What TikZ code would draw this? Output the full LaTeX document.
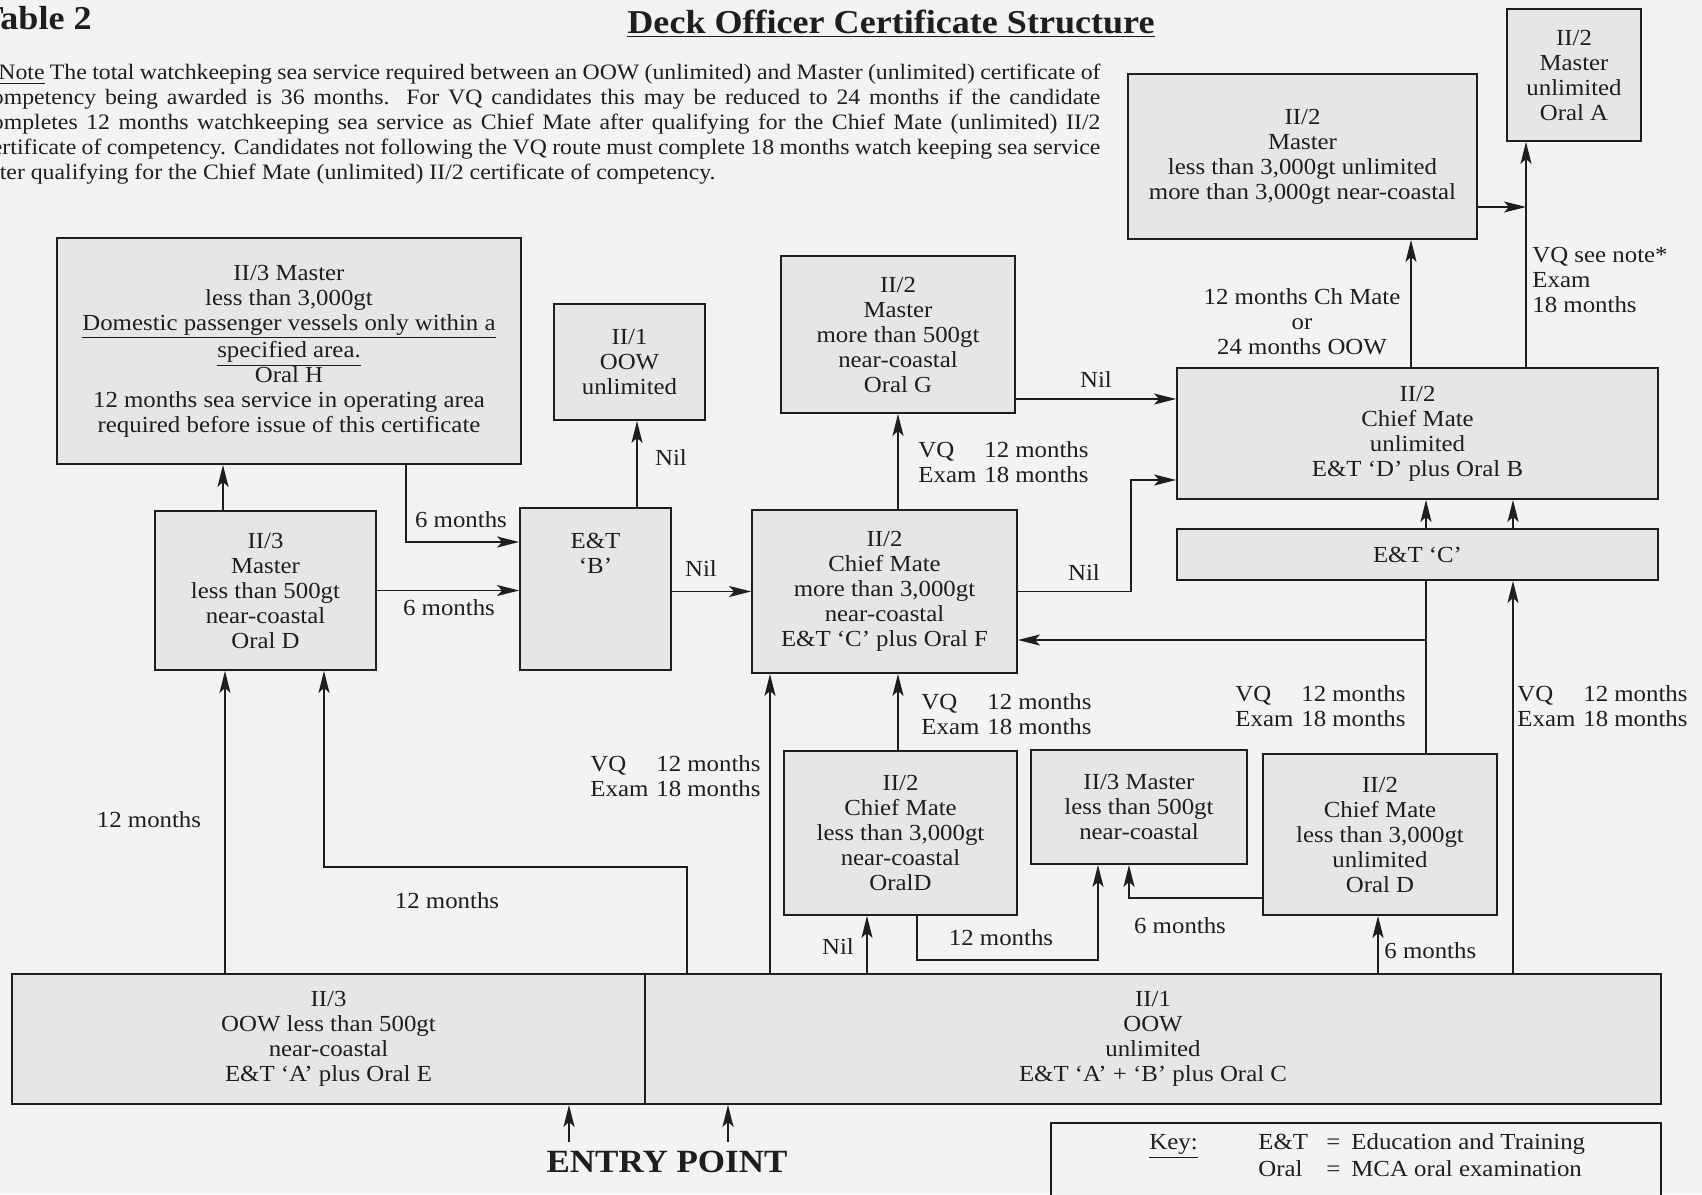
\documentclass[tikz,border=0pt]{standalone}
\usepackage{fontspec}
\setmainfont[FakeStretch=1.08]{Liberation Serif}
\usetikzlibrary{arrows.meta,calc}
\definecolor{bg}{HTML}{F3F3F3}
\definecolor{boxfill}{HTML}{E6E6E6}
\definecolor{ink}{HTML}{1E1E1E}
\newcommand\vqexam{\begin{tabular}{@{}l@{\hspace{4pt}}l@{}}VQ & 12 months\\Exam & 18 months\end{tabular}}
\begin{document}
\begin{tikzpicture}[x=0.5pt,y=-0.5pt,
  every node/.style={font=\fontsize{11.5}{12.5}\selectfont, text=ink},
  cert/.style={draw=ink, fill=boxfill, line width=0.9pt, inner sep=0pt, align=center},
  lbl/.style={inner sep=0pt, align=center},
  arr/.style={draw=ink, line width=0.9pt, -{Stealth[length=11pt,width=5.5pt,inset=2.5pt]}},
  ln/.style={draw=ink, line width=0.9pt},
  big/.style={font=\bfseries\fontsize{16.7}{18}\selectfont, inner sep=0pt}]
\fill[bg] (0,0) rectangle (1702,1194);
\useasboundingbox (0,0) rectangle (1702,1194);
\clip (0,0) rectangle (1702,1194);

% headings
\node[big, anchor=base] (title) at (891,33) {\underline{Deck Officer Certificate Structure}};
\node[big, anchor=base east] (tab) at (92,29) {Table 2};
\node[anchor=north west, inner sep=0pt, text width=559.5pt, align=justify, font=\fontsize{11}{12.5}\selectfont] (note) at (-19,64)
 {\hspace*{8.5pt}\underline{Note} The total watchkeeping sea service required between an OOW (unlimited) and Master (unlimited) certificate of\linebreak
 competency being awarded is 36 months. For VQ candidates this may be reduced to 24 months if the candidate\linebreak
 completes 12 months watchkeeping sea service as Chief Mate after qualifying for the Chief Mate (unlimited) II/2\linebreak
 certificate of competency. Candidates not following the VQ route must complete 18 months watch keeping sea service\linebreak
 after qualifying for the Chief Mate (unlimited) II/2 certificate of competency.};

% certificate boxes
\node[cert, minimum width=67pt, minimum height=66pt] (oralA) at (1574,75) {II/2\\Master\\unlimited\\Oral A};
\node[cert, minimum width=174.5pt, minimum height=82.5pt] (m3000) at (1302.5,156.5) {II/2\\Master\\less than 3,000gt unlimited\\more than 3,000gt near-coastal};
\node[cert, minimum width=240.5pt, minimum height=65.5pt] (cmU) at (1417.5,433.5) {II/2\\Chief Mate\\unlimited\\E\&T `D' plus Oral B};
\node[cert, minimum width=240.5pt, minimum height=25.5pt] (etC) at (1417.5,554.5) {E\&T `C'};
\node[cert, minimum width=117pt, minimum height=80.5pt] (cmUL) at (1380,834.5) {II/2\\Chief Mate\\less than 3,000gt\\unlimited\\Oral D};
\node[cert, minimum width=108pt, minimum height=57pt] (m500nc) at (1139,807) {II/3 Master\\less than 500gt\\near-coastal};
\node[cert, minimum width=116.5pt, minimum height=82pt] (cmLN) at (900.5,833) {II/2\\Chief Mate\\less than 3,000gt\\near-coastal\\OralD};
\node[cert, minimum width=132.5pt, minimum height=81.5pt] (cmMN) at (884.5,591.5) {II/2\\Chief Mate\\more than 3,000gt\\near-coastal\\E\&T `C' plus Oral F};
\node[cert, minimum width=117pt, minimum height=78.5pt] (mG) at (898,334.5) {II/2\\Master\\more than 500gt\\near-coastal\\Oral G};
\node[cert, minimum width=75.5pt, minimum height=81pt] (etB) at (595.5,589) {E\&T\\`B'\\[23.5pt]\mbox{}};
\node[cert, minimum width=75.5pt, minimum height=58pt] (oowS) at (629.5,362) {II/1\\OOW\\unlimited};
\node[cert, minimum width=232pt, minimum height=113pt] (m3H) at (289,351) {II/3 Master\\less than 3,000gt\\\underline{Domestic passenger vessels only within a}\\\underline{specified area.}\\Oral H\\12 months sea service in operating area\\required before issue of this certificate};
\node[cert, minimum width=110.5pt, minimum height=79.5pt] (m3D) at (265.5,590.5) {II/3\\Master\\less than 500gt\\near-coastal\\Oral D};
\node[cert, minimum width=316.5pt, minimum height=65pt] (oowE) at (328.5,1039) {II/3\\OOW less than 500gt\\near-coastal\\E\&T `A' plus Oral E};
\node[cert, minimum width=508pt, minimum height=65pt] (oowC) at (1153,1039) {II/1\\OOW\\unlimited\\E\&T `A' + `B' plus Oral C};
\node[cert, fill=bg, minimum width=305pt, minimum height=45pt] (key) at (1356,1168) {};
\node[anchor=west, inner sep=0pt] (keytxt) at (1149,1158) {\begin{tabular}{@{}p{54.5pt}@{}p{34pt}@{}p{12.5pt}@{}l@{}}\underline{Key:} & E\&T & = & Education and Training\\ & Oral & = & MCA oral examination\end{tabular}};
\node[big, font=\bfseries\fontsize{16.2}{18}\selectfont, anchor=base] (entry) at (667,1172) {ENTRY POINT};

% labels
\node[lbl, anchor=west, align=left] (lvq1) at (1532,280) {VQ see note*\\Exam\\18 months};
\node[lbl] (lch) at (1302,322) {12 months Ch Mate\\or\\24 months OOW};
\node[lbl] (lnil1) at (1096,380) {Nil};
\node[lbl, anchor=west] (lvq2) at (918,465) {\vqexam};
\node[lbl] (lnil2) at (1084,573) {Nil};
\node[lbl] (lnil3) at (701,569) {Nil};
\node[lbl] (lnil4) at (671,458) {Nil};
\node[lbl] (l6a) at (461,520) {6 months};
\node[lbl] (l6b) at (449,608) {6 months};
\node[lbl, anchor=west] (lvq3) at (1235,709) {\vqexam};
\node[lbl, anchor=west] (lvq4) at (1517,709) {\vqexam};
\node[lbl, anchor=west] (lvq5) at (921,717) {\vqexam};
\node[lbl, anchor=west] (lvq6) at (590,779) {\vqexam};
\node[lbl] (l12a) at (149,820) {12 months};
\node[lbl] (l12b) at (447,901) {12 months};
\node[lbl] (lnil5) at (838,947) {Nil};
\node[lbl] (l12c) at (1001,938) {12 months};
\node[lbl] (l6c) at (1180,926) {6 months};
\node[lbl, anchor=west] (l6d) at (1384,951) {6 months};

% helper coordinates
\coordinate (vqx) at (1526,0);
\coordinate (chx) at (1411,0);
\coordinate (r207) at (0,207);
\coordinate (r399) at (0,399);
\coordinate (j1) at (1131,480);
\coordinate (x637) at (637,0);
\coordinate (j2) at (406,542);
\coordinate (x223) at (223,0);
\coordinate (x225) at (225,0);
\coordinate (j3) at (687,867);
\coordinate (j4) at (324,867);
\coordinate (x770) at (770,0);
\coordinate (x867) at (867,0);
\coordinate (j5) at (917,960);
\coordinate (j6) at (1098,960);
\coordinate (x898) at (898,0);
\coordinate (j7) at (1129,898);
\coordinate (x1378) at (1378,0);
\coordinate (j8) at (1426,640);
\coordinate (x1513) at (1513,0);
\coordinate (e1) at (569,1142);
\coordinate (e2) at (728,1142);

% connectors
\draw[arr] (cmU.north -| vqx) -- (oralA.south -| vqx);
\draw[arr] (cmU.north -| chx) -- (m3000.south -| chx);
\draw[arr] (m3000.east |- r207) -- (vqx |- r207);
\draw[arr] (mG.east |- r399) -- (cmU.west |- r399);
\draw[arr] (cmMN.east) -| (j1) -- (j1 -| cmU.west);
\draw[arr] (etB.east |- cmMN.west) -- (cmMN.west);
\draw[arr] (etB.north -| x637) -- (oowS.south -| x637);
\draw[arr] (m3H.south -| j2) -- (j2) -- (j2 -| etB.west);
\draw[arr] (m3D.east) -- (m3D.east -| etB.west);
\draw[arr] (m3D.north -| x223) -- (m3H.south -| x223);
\draw[arr] (oowE.north -| x225) -- (m3D.south -| x225);
\draw[arr] (oowC.north -| j3) -- (j3) -- (j4) -- (j4 |- m3D.south);
\draw[arr] (oowC.north -| x770) -- (cmMN.south -| x770);
\draw[arr] (oowC.north -| x867) -- (cmLN.south -| x867);
\draw[arr] (cmLN.south -| j5) -- (j5) -- (j6) -- (j6 |- m500nc.south);
\draw[arr] (cmLN.north -| x898) -- (cmMN.south -| x898);
\draw[arr] (cmMN.north -| x898) -- (mG.south -| x898);
\draw[arr] (cmUL.west |- j7) -- (j7) -- (j7 |- m500nc.south);
\draw[arr] (oowC.north -| x1378) -- (cmUL.south -| x1378);
\draw[ln] (cmUL.north -| j8) -- (etC.south -| j8);
\draw[arr] (j8) -- (j8 -| cmMN.east);
\draw[arr] (oowC.north -| x1513) -- (etC.south -| x1513);
\draw[arr] (etC.north -| j8) -- (cmU.south -| j8);
\draw[arr] (etC.north -| x1513) -- (cmU.south -| x1513);
\draw[arr] (e1) -- (e1 |- oowE.south);
\draw[arr] (e2) -- (e2 |- oowC.south);
\end{tikzpicture}
\end{document}
